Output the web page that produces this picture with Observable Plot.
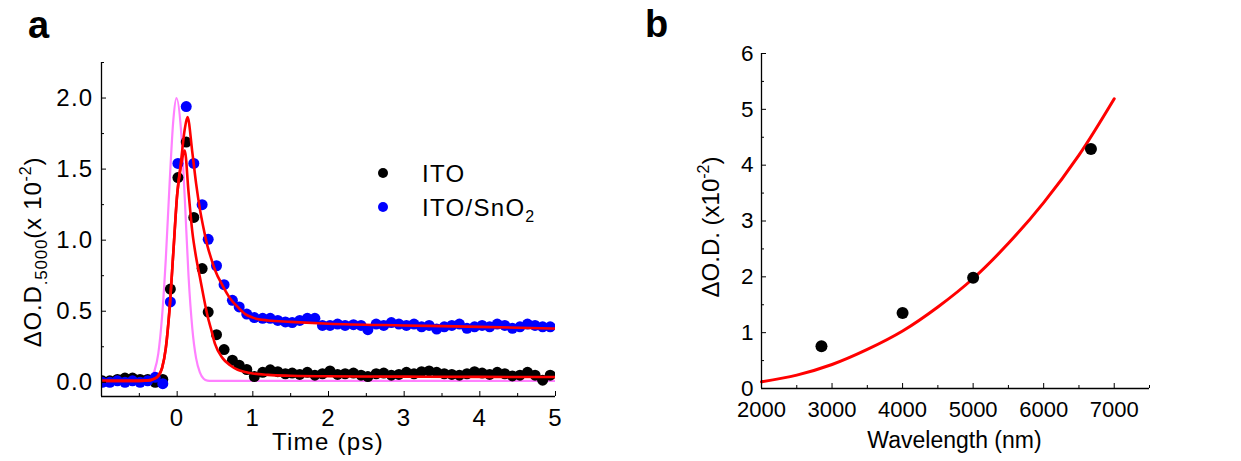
<!DOCTYPE html>
<html><head><meta charset="utf-8">
<script src="https://cdn.jsdelivr.net/npm/d3@7"></script>
<script src="https://cdn.jsdelivr.net/npm/@observablehq/plot@0.6"></script>
<style>
body{margin:0;background:#fff;}
#wrap{position:relative;width:1241px;height:461px;overflow:hidden;font-family:"Liberation Sans",Arial,sans-serif;}
#pa{position:absolute;left:0;top:0;}
#pb{position:absolute;left:620px;top:0;}
#pa text{letter-spacing:1.3px;}
</style></head><body>
<div id="wrap"><div id="pa"></div><div id="pb"></div></div>
<script>
// ---------- Panel a data ----------
const timePs = [-0.99,-0.89,-0.79,-0.69,-0.59,-0.49,-0.39,-0.29,-0.19,-0.09,
  0.01,0.12,0.22,0.33,0.41,0.52,0.62,0.73,0.82,0.92,
  1.02,1.13,1.23,1.33,1.43,1.52,1.62,1.72,1.82,1.92,
  2.02,2.12,2.22,2.33,2.43,2.52,2.63,2.73,2.83,2.93,
  3.03,3.13,3.23,3.33,3.43,3.53,3.63,3.73,3.83,3.93,
  4.03,4.13,4.23,4.33,4.43,4.53,4.63,4.73,4.83,4.93];
const itoOD = [0.01,0.01,0.02,0.03,0.03,0.02,0.02,0.0,0.02,0.656,
  1.44,1.69,1.16,0.80,0.494,0.335,0.23,0.155,0.12,0.09,
  0.04,0.07,0.088,0.075,0.06,0.065,0.055,0.07,0.05,0.06,
  0.08,0.055,0.06,0.065,0.05,0.04,0.06,0.065,0.05,0.055,
  0.07,0.06,0.075,0.08,0.07,0.06,0.055,0.05,0.06,0.075,
  0.065,0.055,0.07,0.06,0.045,0.05,0.07,0.05,0.015,0.05];
const itoSnO2OD = [0.0,0.0,0.01,0.0,0.01,0.0,0.01,0.035,-0.01,0.565,
  1.54,1.94,1.54,1.25,1.006,0.82,0.687,0.577,0.53,0.48,
  0.455,0.45,0.45,0.435,0.425,0.42,0.435,0.45,0.45,0.40,
  0.40,0.41,0.40,0.405,0.40,0.37,0.41,0.40,0.42,0.41,
  0.40,0.41,0.39,0.40,0.375,0.39,0.40,0.41,0.38,0.39,
  0.40,0.39,0.41,0.40,0.38,0.39,0.41,0.40,0.39,0.39];
const itoFitT = [-1,-0.5,-0.35,-0.3,-0.25,-0.2,-0.15,-0.1,-0.05,0,0.05,0.1,0.15,0.2,0.25,0.3,0.35,0.4,0.45,0.5,0.6,0.7,0.8,0.9,1.0,1.2,1.5,2,3,4,5];
const itoFitV = [0.01,0.01,0.015,0.025,0.045,0.10,0.24,0.52,0.92,1.32,1.52,1.63,1.34,1.06,0.88,0.74,0.60,0.47,0.37,0.27,0.17,0.12,0.088,0.072,0.062,0.052,0.046,0.042,0.04,0.038,0.037];
const snFitT = [-1,-0.5,-0.35,-0.3,-0.25,-0.2,-0.15,-0.1,-0.05,0,0.05,0.1,0.137,0.2,0.25,0.3,0.35,0.4,0.45,0.5,0.6,0.7,0.8,0.9,1.0,1.2,1.5,2,3,4,5];
const snFitV = [0.01,0.01,0.015,0.025,0.045,0.10,0.24,0.52,0.92,1.32,1.55,1.78,1.866,1.62,1.40,1.22,1.08,0.96,0.87,0.79,0.68,0.59,0.53,0.48,0.455,0.435,0.425,0.412,0.40,0.39,0.378];
const irfT = [-1,-0.45,-0.4,-0.35,-0.3,-0.25,-0.2,-0.15,-0.1,-0.05,-0.01,0.05,0.1,0.15,0.2,0.25,0.3,0.35,0.4,0.45,5];
const irfV = [0.01,0.01,0.015,0.03,0.08,0.2,0.46,0.87,1.4,1.85,2.0,1.78,1.3,0.75,0.38,0.17,0.07,0.025,0.012,0.01,0.01];
const xTicksA = [0,1,2,3,4,5];
const xMinorA = [-0.5,0.5,1.5,2.5,3.5,4.5];
const yTicksA = [0,0.5,1.0,1.5,2.0];
const yMinorA = [0.25,0.75,1.25,1.75,2.25];
const seriesNames = ["ITO","ITO/SnO2"];

// ---------- Panel b data ----------
const wavelengthNm = [2850,4000,5000,6670];
const odB = [0.757,1.352,1.985,4.29];
const fitWl = [2000,2500,3000,3500,4000,4500,5000,5500,6000,6500,7000];
const fitOdB = [0.12,0.24,0.43,0.70,1.03,1.46,1.97,2.60,3.33,4.18,5.19];
const xTicksB = [2000,3000,4000,5000,6000,7000];
const xMinorB = [2500,3500,4500,5500,6500,7500];
const yTicksB = [0,1,2,3,4,5,6];
const yMinorB = [0.5,1.5,2.5,3.5,4.5,5.5];

const FONT = '"Liberation Sans", Arial, sans-serif';
const zip = (xs, ys) => xs.map((x,i)=>({x, y: ys[i]}));

const plotA = Plot.plot({
  width: 600, height: 461,
  marginLeft: 101, marginRight: 45, marginTop: 62, marginBottom: 65,
  style: {fontFamily: FONT, fontSize: "24px", color: "#000", background: "transparent", overflow: "visible"},
  x: {domain: [-1, 5]},
  y: {domain: [-0.1, 2.25]},
  marks: [
    Plot.line(zip(irfT, irfV), {x:"x", y:"y", stroke:"#ff80ff", strokeWidth:2.2, curve:"monotone-x", clip:true}),
    Plot.dot(zip(timePs, itoOD), {x:"x", y:"y", r:5.5, fill:"#000", stroke:"none", clip:true}),
    Plot.dot(zip(timePs, itoSnO2OD), {x:"x", y:"y", r:5.5, fill:"#0000ff", stroke:"none", clip:true}),
    Plot.line(zip(itoFitT, itoFitV), {x:"x", y:"y", stroke:"#ff0000", strokeWidth:2.6, curve:"monotone-x", clip:true}),
    Plot.line(zip(snFitT, snFitV), {x:"x", y:"y", stroke:"#ff0000", strokeWidth:2.6, curve:"monotone-x", clip:true}),
    Plot.ruleX([-1], {stroke:"#000", strokeWidth:1.3}),
    Plot.ruleY([-0.1], {stroke:"#000", strokeWidth:1.3}),
    Plot.axisX(xTicksA, {tickSize:0, tickPadding:12, label:null, fontSize:24, tickFormat: d => String(d)}),
    Plot.axisX(xTicksA, {tickSize:-5, fill:"none", label:null}),
    Plot.axisX(xMinorA, {tickSize:-3, fill:"none", label:null}),
    Plot.axisY(yTicksA, {tickSize:0, tickPadding:8, label:null, fontSize:24, tickFormat: d3.format(".1f")}),
    Plot.axisY(yTicksA, {tickSize:-5, fill:"none", label:null}),
    Plot.axisY(yMinorA, {tickSize:-3, fill:"none", label:null})
  ]
});
document.getElementById("pa").appendChild(plotA);

const plotB = Plot.plot({
  width: 621, height: 461,
  marginLeft: 141, marginRight: 92, marginTop: 53, marginBottom: 73,
  style: {fontFamily: FONT, fontSize: "22px", color: "#000", background: "transparent", overflow: "visible"},
  x: {domain: [2000, 7500]},
  y: {domain: [0, 6]},
  marks: [
    Plot.line(zip(fitWl, fitOdB), {x:"x", y:"y", stroke:"#ff0000", strokeWidth:3, curve:"catmull-rom"}),
    Plot.dot(zip(wavelengthNm, odB), {x:"x", y:"y", r:6, fill:"#000", stroke:"none"}),
    Plot.ruleX([2000], {stroke:"#000", strokeWidth:1.3}),
    Plot.ruleY([0], {stroke:"#000", strokeWidth:1.3}),
    Plot.axisX(xTicksB, {tickSize:0, tickPadding:13, label:null, fontSize:22, tickFormat: d => String(d)}),
    Plot.axisX(xTicksB, {tickSize:-5, fill:"none", label:null}),
    Plot.axisX(xMinorB, {tickSize:-3, fill:"none", label:null}),
    Plot.axisY(yTicksB, {tickSize:0, tickPadding:8, label:null, fontSize:22.5, tickFormat: d => String(d)}),
    Plot.axisY(yTicksB, {tickSize:-5, fill:"none", label:null}),
    Plot.axisY(yMinorB, {tickSize:-3, fill:"none", label:null})
  ]
});
document.getElementById("pb").appendChild(plotB);

// ---------- text annotations ----------
function addText(svg, x, y, parts, opts = {}) {
  const t = d3.select(svg).append("text")
    .attr("x", x).attr("y", y)
    .attr("font-family", FONT)
    .attr("font-size", opts.size || 23)
    .attr("font-weight", opts.weight || "normal")
    .attr("text-anchor", opts.anchor || "start")
    .attr("fill", "#000");
  if (opts.spacing !== undefined) t.attr("style", `letter-spacing:${opts.spacing}px`);
  if (opts.rotate) t.attr("transform", `rotate(${opts.rotate},${x},${y})`);
  let shift = 0;
  for (const p of parts) {
    const s = t.append("tspan").text(p.text);
    const target = p.sub ? 6 : p.sup ? -10 : 0;
    if (target !== shift) { s.attr("dy", target - shift); shift = target; }
    if (p.sub || p.sup) s.attr("font-size", p.size || 16);
  }
  return t;
}
const svgA = plotA.tagName === "svg" ? plotA : plotA.querySelector("svg");
const svgB = plotB.tagName === "svg" ? plotB : plotB.querySelector("svg");

addText(svgA, 28, 38, [{text:"a"}], {size:38, weight:"bold", spacing:0});
addText(svgB, 25, 37, [{text:"b"}], {size:38, weight:"bold"});

addText(svgA, 328, 450, [{text:"Time (ps)"}], {anchor:"middle", size:24, spacing:1.3});
addText(svgB, 334.5, 448, [{text:"Wavelength (nm)"}], {anchor:"middle"});

addText(svgA, 41, 252, [{text:"\u0394O.D"},{text:".5000", sub:true, size:17},{text:"(x 10"},{text:"-2", sup:true, size:16},{text:")"}], {anchor:"middle", rotate:-90, size:24, spacing:0.8});
addText(svgB, 99, 227, [{text:"\u0394O.D. (x10"},{text:"-2", sup:true, size:16},{text:")"}], {anchor:"middle", rotate:-90, size:24});

// legend
const legendColors = ["#000", "#0000ff"];
const legendY = [173, 207];
seriesNames.forEach((name, i) => {
  d3.select(svgA).append("circle").attr("cx", 383).attr("cy", legendY[i]).attr("r", 5).attr("fill", legendColors[i]);
  if (name === "ITO/SnO2") {
    addText(svgA, 422, legendY[i] + 9, [{text:"ITO/SnO"},{text:"2", sub:true, size:16}], {size:24, spacing:1.3});
  } else {
    addText(svgA, 422, legendY[i] + 9, [{text:name}], {size:24, spacing:1.3});
  }
});
</script>
</body></html>
